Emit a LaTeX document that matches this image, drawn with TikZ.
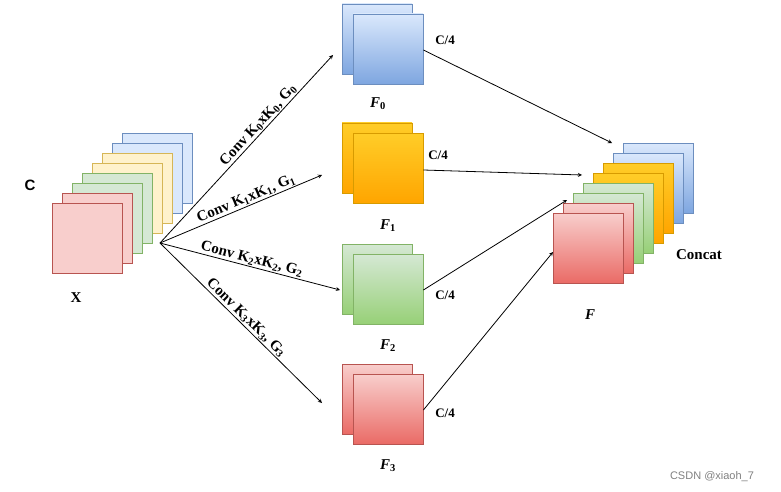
\documentclass[tikz,border=0pt]{standalone}
\usepackage{fontspec}
\setmainfont{Liberation Serif}
\newfontfamily\arialf{Liberation Sans}
\usepackage{tikz}
\usetikzlibrary{positioning}
\definecolor{bluef}{HTML}{DAE8FC}\definecolor{blued}{HTML}{6C8EBF}\definecolor{blueg}{HTML}{7EA6E0}
\definecolor{yelf}{HTML}{FFF2CC}\definecolor{yeld}{HTML}{D6B656}
\definecolor{grnf}{HTML}{D5E8D4}\definecolor{grnd}{HTML}{82B366}\definecolor{grng}{HTML}{97D077}
\definecolor{redf}{HTML}{F8CECC}\definecolor{redd}{HTML}{B85450}\definecolor{redg}{HTML}{EA6B66}
\definecolor{orgf}{HTML}{FFCD28}\definecolor{orgd}{HTML}{D79B00}\definecolor{orgg}{HTML}{FFA500}
\tikzstyle{arrow} = [->,>=stealth,thick]
\tikzstyle{sq} = [draw,thick,minimum size=70pt,inner sep=0pt]
\tikzstyle{lab} = [font=\fontsize{15}{17}\selectfont\bfseries,inner sep=1pt]
\tikzstyle{quart} = [font=\fontsize{13}{15}\selectfont\bfseries]
\newcommand{\sub}[1]{\textsubscript{#1}}
\tikzset{
  bl/.style={sq,draw=blued,top color=bluef,bottom color=blueg},
  og/.style={sq,draw=orgd,top color=orgf,bottom color=orgg},
  gr/.style={sq,draw=grnd,top color=grnf,bottom color=grng},
  rd/.style={sq,draw=redd,top color=redf,bottom color=redg},
}
\begin{document}
\begin{tikzpicture}[x=1pt,y=-1pt]
    \useasboundingbox (0,0) rectangle (781,492);
    % input stack
    \foreach \c/\d [count=\i from 0] in {bluef/blued,bluef/blued,yelf/yeld,yelf/yeld,grnf/grnd,grnf/grnd,redf/redd,redf/redd}
        \node[sq,draw=\d,fill=\c] (x\i) at (157-10*\i,168+10*\i) {};
    \node[font=\arialf\bfseries\fontsize{15}{17}\selectfont] (c) at (30,185) {C};
    \node[lab] (xl) at (76,298) {X};
    \coordinate (src) at (160,243);
    % branches
    \node[bl] (f0b) at (377,39) {};  \node[bl] (f0) at (388,49) {};
    \node[og] (f1b) at (377,158) {}; \node[og] (f1) at (388,168) {};
    \node[gr] (f2b) at (377,279) {}; \node[gr] (f2) at (388,289) {};
    \node[rd] (f3b) at (377,399) {}; \node[rd] (f3) at (388,409) {};
    \node[lab] at (378,104) {\textit{F}\sub{0}};
    \node[lab] at (388,226) {\textit{F}\sub{1}};
    \node[lab] at (388,346) {\textit{F}\sub{2}};
    \node[lab] at (388,466) {\textit{F}\sub{3}};
    \node[quart] at (445,40) {C/4};
    \node[quart] at (438,155) {C/4};
    \node[quart] at (445,295) {C/4};
    \node[quart] at (445,413) {C/4};
    \coordinate (e0) at (333,55); \coordinate (e1) at (322,175);
    \coordinate (e2) at (340,290); \coordinate (e3) at (322,403);
    \draw[arrow] (src) -- node[lab,sloped,above,pos=0.6] {Conv K\sub{0}xK\sub{0}, G\sub{0}} (e0);
    \draw[arrow] (src) -- node[lab,sloped,above,pos=0.55] {Conv K\sub{1}xK\sub{1}, G\sub{1}} (e1);
    \draw[arrow] (src) -- node[lab,sloped,above,pos=0.5] {Conv K\sub{2}xK\sub{2}, G\sub{2}} (e2);
    \draw[arrow] (src) -- node[lab,sloped,above,pos=0.5] {Conv K\sub{3}xK\sub{3}, G\sub{3}} (e3);
    % concat stack
    \foreach \s [count=\i from 0] in {bl,bl,og,og,gr,gr,rd,rd}
        \node[\s] (y\i) at (658-10*\i,178+10*\i) {};
    \node[lab] (cc) at (699,255) {Concat};
    \node[lab] (fl) at (590,315) {\textit{F}};
    \coordinate (c0) at (612,143); \coordinate (c1) at (582,175);
    \coordinate (c2) at (567,200); \coordinate (c3) at (553,252);
    \draw[arrow] (f0.east |- 0,50) -- (c0);
    \draw[arrow] (f1.east |- 0,170) -- (c1);
    \draw[arrow] (f2.east |- 0,290) -- (c2);
    \draw[arrow] (f3.east |- 0,410) -- (c3);
    \node[text=gray,font=\arialf\fontsize{11}{13}\selectfont] (wm) at (712,477) {CSDN @xiaoh\_7};
\end{tikzpicture}
\end{document}
